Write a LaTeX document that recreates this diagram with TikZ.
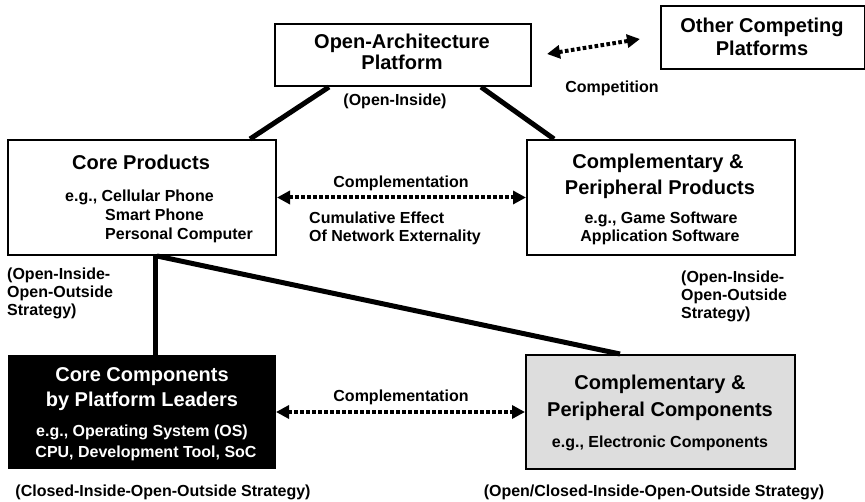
\documentclass[tikz,border=0pt]{standalone}
\usepackage{fontspec}
\setmainfont{Liberation Sans}
\usetikzlibrary{arrows.meta}
\definecolor{boxgray}{RGB}{221,221,221}
\begin{document}
\begin{tikzpicture}[x=1pt,y=-1pt,
  box/.style={draw=black,line width=2pt,inner sep=0pt,anchor=north west},
  big/.style={font=\fontsize{20}{24}\selectfont\bfseries,inner sep=0pt,anchor=base},
  small/.style={font=\fontsize{16}{19}\selectfont\bfseries,inner sep=0pt,anchor=base},
  smallw/.style={small,anchor=base west},
  link/.style={line width=5pt,line cap=butt},
  dotarrow/.style={line width=4pt,dash pattern=on 3.6pt off 2.4pt,
     {Triangle[length=13pt,width=13pt]}-{Triangle[length=13pt,width=13pt]}}
]
\useasboundingbox (0,0) rectangle (865,502);

% boxes
\node[box,minimum width=256pt,minimum height=62pt] (oap) at (274,23) {};
\node[box,minimum width=204pt,minimum height=63pt] (ocp) at (660,5) {};
\node[box,minimum width=268pt,minimum height=115pt] (cp) at (7,139) {};
\node[box,minimum width=268pt,minimum height=115pt] (cpp) at (526,139) {};
\node[box,fill=black,minimum width=266pt,minimum height=112pt] (cc) at (8,355) {};
\node[box,fill=boxgray,minimum width=269pt,minimum height=114pt] (pcc) at (525,354) {};

% connectors
\draw[link] ([xshift=55pt]oap.south west) -- ([xshift=243pt]cp.north west);
\draw[link] ([xshift=-51pt]oap.south east) -- ([xshift=28pt]cpp.north west);
\draw[link] ([xshift=148pt]cp.south west) -- ([xshift=147pt]cc.north west);
\draw[link] ([xshift=150pt]cp.south west) -- ([xshift=95pt]pcc.north west);
\draw[dotarrow] (cp.east) -- (cpp.west);
\draw[dotarrow] (cc.east) -- (pcc.west);
\draw[dotarrow] ([xshift=15pt,yshift=1pt]oap.east) -- ([xshift=-20pt,yshift=-1.5pt]ocp.west);

% texts: top
\node[big] (t1) at (402,49) {Open-Architecture};
\node[big] (t2) at (402,70) {Platform};
\node[small] (t3) at (395,106) {(Open-Inside)};
\node[big] (t4) at (762,33) {Other Competing};
\node[big] (t5) at (762,56) {Platforms};
\node[small] (t6) at (612,93) {Competition};

% core products
\node[big] (t7) at (141,170) {Core Products};
\node[smallw] (t8) at (65,202) {e.g., Cellular Phone};
\node[smallw] (t9) at (105,221) {Smart Phone};
\node[smallw] (t10) at (105,240) {Personal Computer};

% middle
\node[small] (t11) at (401,188) {Complementation};
\node[smallw] (t12) at (309,224) {Cumulative Effect};
\node[smallw] (t13) at (309,242) {Of Network Externality};

% complementary products
\node[big] (t14) at (658,169) {Complementary \&};
\node[big] (t15) at (660,195) {Peripheral Products};
\node[small] (t16) at (661,224) {e.g., Game Software};
\node[small] (t17) at (660,242) {Application Software};

% side labels
\node[smallw] (t18) at (7,280) {(Open-Inside-};
\node[smallw] (t19) at (7,298) {Open-Outside};
\node[smallw] (t20) at (7,316) {Strategy)};
\node[smallw] (t21) at (681,283) {(Open-Inside-};
\node[smallw] (t22) at (681,301) {Open-Outside};
\node[smallw] (t23) at (681,319) {Strategy)};

% core components
\node[big,text=white] (t24) at (142,382) {Core Components};
\node[big,text=white] (t25) at (142,407) {by Platform Leaders};
\node[small,text=white] (t26) at (142,437) {e.g., Operating System (OS)};
\node[small,text=white] (t27) at (146,457) {CPU, Development Tool, SoC};

\node[small] (t28) at (401,402) {Complementation};

% complementary components
\node[big] (t29) at (660,390) {Complementary \&};
\node[big] (t30) at (660,417) {Peripheral Components};
\node[small] (t31) at (660,447) {e.g., Electronic Components};

% bottom labels
\node[small] (t32) at (163,496) {(Closed-Inside-Open-Outside Strategy)};
\node[small] (t33) at (654,496) {(Open/Closed-Inside-Open-Outside Strategy)};
\end{tikzpicture}
\end{document}
